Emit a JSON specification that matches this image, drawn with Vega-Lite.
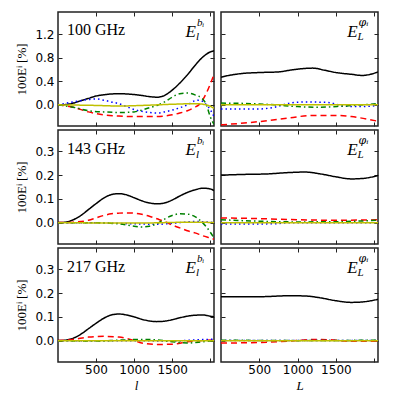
{
"$schema":"https://vega.github.io/schema/vega-lite/v6.json",
"padding":{"left":15,"top":10,"right":5,"bottom":0},
"background":"white",
"config":{
 "view":{"stroke":"#222","strokeWidth":1.5},
 "axis":{"grid":false,"domain":false,"tickSize":-4,"tickColor":"#222","tickWidth":1,"labelPadding":8,"labelFont":"DejaVu Sans","labelFontSize":12,"labelColor":"#000","titleColor":"#000","titleFontWeight":"normal","minExtent":0},
 "axisX":{"titleFont":"Liberation Serif","titleFontStyle":"italic","titleFontSize":13,"titlePadding":4,"labelPadding":6},
 "axisY":{"titleFont":"Liberation Serif","titleFontSize":13,"titlePadding":6},
 "concat":{"spacing":3}
},
"datasets":{"d":[
{"p":1,"s":"k","x":0,"v":0},{"p":1,"s":"k","x":100,"v":0.005},{"p":1,"s":"k","x":200,"v":0.03},{"p":1,"s":"k","x":300,"v":0.07},{"p":1,"s":"k","x":400,"v":0.11},{"p":1,"s":"k","x":500,"v":0.15},{"p":1,"s":"k","x":600,"v":0.17},{"p":1,"s":"k","x":700,"v":0.185},{"p":1,"s":"k","x":800,"v":0.19},{"p":1,"s":"k","x":900,"v":0.185},{"p":1,"s":"k","x":1000,"v":0.175},{"p":1,"s":"k","x":1100,"v":0.16},{"p":1,"s":"k","x":1200,"v":0.14},{"p":1,"s":"k","x":1300,"v":0.13},{"p":1,"s":"k","x":1400,"v":0.16},{"p":1,"s":"k","x":1500,"v":0.25},{"p":1,"s":"k","x":1600,"v":0.37},{"p":1,"s":"k","x":1700,"v":0.51},{"p":1,"s":"k","x":1800,"v":0.67},{"p":1,"s":"k","x":1900,"v":0.81},{"p":1,"s":"k","x":2000,"v":0.9},{"p":1,"s":"k","x":2050,"v":0.92},
{"p":1,"s":"r","x":0,"v":0},{"p":1,"s":"r","x":200,"v":-0.04},{"p":1,"s":"r","x":400,"v":-0.12},{"p":1,"s":"r","x":600,"v":-0.17},{"p":1,"s":"r","x":800,"v":-0.19},{"p":1,"s":"r","x":1000,"v":-0.2},{"p":1,"s":"r","x":1200,"v":-0.2},{"p":1,"s":"r","x":1400,"v":-0.19},{"p":1,"s":"r","x":1500,"v":-0.17},{"p":1,"s":"r","x":1600,"v":-0.14},{"p":1,"s":"r","x":1700,"v":-0.1},{"p":1,"s":"r","x":1800,"v":-0.04},{"p":1,"s":"r","x":1850,"v":0},{"p":1,"s":"r","x":1900,"v":0.08},{"p":1,"s":"r","x":1950,"v":0.2},{"p":1,"s":"r","x":2000,"v":0.35},{"p":1,"s":"r","x":2050,"v":0.52},
{"p":1,"s":"u","x":0,"v":0},{"p":1,"s":"u","x":200,"v":0.05},{"p":1,"s":"u","x":400,"v":0.09},{"p":1,"s":"u","x":500,"v":0.1},{"p":1,"s":"u","x":600,"v":0.08},{"p":1,"s":"u","x":700,"v":0.05},{"p":1,"s":"u","x":800,"v":0.02},{"p":1,"s":"u","x":900,"v":-0.03},{"p":1,"s":"u","x":1000,"v":-0.08},{"p":1,"s":"u","x":1100,"v":-0.11},{"p":1,"s":"u","x":1200,"v":-0.13},{"p":1,"s":"u","x":1300,"v":-0.14},{"p":1,"s":"u","x":1400,"v":-0.12},{"p":1,"s":"u","x":1500,"v":-0.09},{"p":1,"s":"u","x":1600,"v":-0.05},{"p":1,"s":"u","x":1700,"v":0},{"p":1,"s":"u","x":1800,"v":0.07},{"p":1,"s":"u","x":1850,"v":0.08},{"p":1,"s":"u","x":1900,"v":0.06},{"p":1,"s":"u","x":1950,"v":0},{"p":1,"s":"u","x":2000,"v":-0.08},{"p":1,"s":"u","x":2050,"v":-0.2},
{"p":1,"s":"g","x":0,"v":0},{"p":1,"s":"g","x":200,"v":-0.04},{"p":1,"s":"g","x":400,"v":-0.1},{"p":1,"s":"g","x":600,"v":-0.12},{"p":1,"s":"g","x":800,"v":-0.13},{"p":1,"s":"g","x":1000,"v":-0.12},{"p":1,"s":"g","x":1100,"v":-0.09},{"p":1,"s":"g","x":1200,"v":-0.05},{"p":1,"s":"g","x":1300,"v":-0.01},{"p":1,"s":"g","x":1400,"v":0.05},{"p":1,"s":"g","x":1500,"v":0.13},{"p":1,"s":"g","x":1600,"v":0.19},{"p":1,"s":"g","x":1700,"v":0.2},{"p":1,"s":"g","x":1800,"v":0.17},{"p":1,"s":"g","x":1900,"v":0.1},{"p":1,"s":"g","x":1950,"v":0},{"p":1,"s":"g","x":2000,"v":-0.2},{"p":1,"s":"g","x":2050,"v":-0.33},
{"p":1,"s":"y","x":0,"v":0},{"p":1,"s":"y","x":500,"v":-0.01},{"p":1,"s":"y","x":800,"v":-0.02},{"p":1,"s":"y","x":1100,"v":-0.01},{"p":1,"s":"y","x":1500,"v":0.01},{"p":1,"s":"y","x":1800,"v":0.02},{"p":1,"s":"y","x":1950,"v":0},{"p":1,"s":"y","x":2050,"v":-0.06},
{"p":2,"s":"k","x":0,"v":0.47},{"p":2,"s":"k","x":100,"v":0.5},{"p":2,"s":"k","x":250,"v":0.53},{"p":2,"s":"k","x":500,"v":0.55},{"p":2,"s":"k","x":750,"v":0.56},{"p":2,"s":"k","x":900,"v":0.59},{"p":2,"s":"k","x":1100,"v":0.62},{"p":2,"s":"k","x":1200,"v":0.625},{"p":2,"s":"k","x":1350,"v":0.59},{"p":2,"s":"k","x":1500,"v":0.55},{"p":2,"s":"k","x":1700,"v":0.52},{"p":2,"s":"k","x":1850,"v":0.5},{"p":2,"s":"k","x":1950,"v":0.52},{"p":2,"s":"k","x":2050,"v":0.56},
{"p":2,"s":"r","x":0,"v":-0.34},{"p":2,"s":"r","x":300,"v":-0.31},{"p":2,"s":"r","x":600,"v":-0.27},{"p":2,"s":"r","x":900,"v":-0.22},{"p":2,"s":"r","x":1200,"v":-0.18},{"p":2,"s":"r","x":1500,"v":-0.18},{"p":2,"s":"r","x":1700,"v":-0.2},{"p":2,"s":"r","x":1900,"v":-0.24},{"p":2,"s":"r","x":2050,"v":-0.28},
{"p":2,"s":"u","x":0,"v":-0.07},{"p":2,"s":"u","x":500,"v":-0.07},{"p":2,"s":"u","x":700,"v":-0.04},{"p":2,"s":"u","x":900,"v":0.03},{"p":2,"s":"u","x":1100,"v":0.05},{"p":2,"s":"u","x":1400,"v":0.04},{"p":2,"s":"u","x":1600,"v":-0.02},{"p":2,"s":"u","x":1800,"v":-0.03},{"p":2,"s":"u","x":2050,"v":-0.01},
{"p":2,"s":"g","x":0,"v":0.03},{"p":2,"s":"g","x":400,"v":0.02},{"p":2,"s":"g","x":700,"v":0},{"p":2,"s":"g","x":1000,"v":-0.03},{"p":2,"s":"g","x":1300,"v":-0.04},{"p":2,"s":"g","x":1600,"v":-0.02},{"p":2,"s":"g","x":2050,"v":0.02},
{"p":2,"s":"y","x":0,"v":0},{"p":2,"s":"y","x":2050,"v":0},
{"p":3,"s":"k","x":0,"v":0},{"p":3,"s":"k","x":100,"v":0.002},{"p":3,"s":"k","x":200,"v":0.012},{"p":3,"s":"k","x":300,"v":0.03},{"p":3,"s":"k","x":400,"v":0.055},{"p":3,"s":"k","x":500,"v":0.08},{"p":3,"s":"k","x":600,"v":0.103},{"p":3,"s":"k","x":700,"v":0.118},{"p":3,"s":"k","x":800,"v":0.122},{"p":3,"s":"k","x":900,"v":0.117},{"p":3,"s":"k","x":1000,"v":0.105},{"p":3,"s":"k","x":1100,"v":0.092},{"p":3,"s":"k","x":1200,"v":0.083},{"p":3,"s":"k","x":1300,"v":0.079},{"p":3,"s":"k","x":1400,"v":0.083},{"p":3,"s":"k","x":1500,"v":0.095},{"p":3,"s":"k","x":1600,"v":0.112},{"p":3,"s":"k","x":1700,"v":0.127},{"p":3,"s":"k","x":1800,"v":0.138},{"p":3,"s":"k","x":1900,"v":0.145},{"p":3,"s":"k","x":2000,"v":0.142},{"p":3,"s":"k","x":2050,"v":0.135},
{"p":3,"s":"r","x":0,"v":0},{"p":3,"s":"r","x":200,"v":0.002},{"p":3,"s":"r","x":400,"v":0.01},{"p":3,"s":"r","x":500,"v":0.02},{"p":3,"s":"r","x":600,"v":0.03},{"p":3,"s":"r","x":700,"v":0.037},{"p":3,"s":"r","x":800,"v":0.04},{"p":3,"s":"r","x":900,"v":0.041},{"p":3,"s":"r","x":1000,"v":0.04},{"p":3,"s":"r","x":1100,"v":0.035},{"p":3,"s":"r","x":1200,"v":0.027},{"p":3,"s":"r","x":1300,"v":0.016},{"p":3,"s":"r","x":1400,"v":0.005},{"p":3,"s":"r","x":1500,"v":-0.01},{"p":3,"s":"r","x":1600,"v":-0.022},{"p":3,"s":"r","x":1700,"v":-0.034},{"p":3,"s":"r","x":1800,"v":-0.043},{"p":3,"s":"r","x":1900,"v":-0.055},{"p":3,"s":"r","x":2000,"v":-0.065},{"p":3,"s":"r","x":2050,"v":-0.07},
{"p":3,"s":"u","x":0,"v":0},{"p":3,"s":"u","x":500,"v":-0.001},{"p":3,"s":"u","x":1000,"v":-0.005},{"p":3,"s":"u","x":1300,"v":-0.007},{"p":3,"s":"u","x":1600,"v":0},{"p":3,"s":"u","x":1800,"v":0.005},{"p":3,"s":"u","x":2050,"v":0},
{"p":3,"s":"g","x":0,"v":0},{"p":3,"s":"g","x":400,"v":0},{"p":3,"s":"g","x":800,"v":-0.005},{"p":3,"s":"g","x":1000,"v":-0.015},{"p":3,"s":"g","x":1100,"v":-0.018},{"p":3,"s":"g","x":1200,"v":-0.015},{"p":3,"s":"g","x":1300,"v":-0.005},{"p":3,"s":"g","x":1400,"v":0.015},{"p":3,"s":"g","x":1500,"v":0.03},{"p":3,"s":"g","x":1600,"v":0.037},{"p":3,"s":"g","x":1700,"v":0.036},{"p":3,"s":"g","x":1800,"v":0.025},{"p":3,"s":"g","x":1900,"v":0},{"p":3,"s":"g","x":2000,"v":-0.04},{"p":3,"s":"g","x":2050,"v":-0.065},
{"p":3,"s":"y","x":0,"v":0},{"p":3,"s":"y","x":1000,"v":-0.002},{"p":3,"s":"y","x":1800,"v":0.002},{"p":3,"s":"y","x":2050,"v":0},
{"p":4,"s":"k","x":0,"v":0.2},{"p":4,"s":"k","x":300,"v":0.203},{"p":4,"s":"k","x":600,"v":0.205},{"p":4,"s":"k","x":900,"v":0.211},{"p":4,"s":"k","x":1100,"v":0.213},{"p":4,"s":"k","x":1300,"v":0.205},{"p":4,"s":"k","x":1500,"v":0.193},{"p":4,"s":"k","x":1700,"v":0.184},{"p":4,"s":"k","x":1850,"v":0.186},{"p":4,"s":"k","x":2050,"v":0.198},
{"p":4,"s":"r","x":0,"v":0.02},{"p":4,"s":"r","x":500,"v":0.017},{"p":4,"s":"r","x":1000,"v":0.012},{"p":4,"s":"r","x":1500,"v":0.01},{"p":4,"s":"r","x":2050,"v":0.012},
{"p":4,"s":"u","x":0,"v":-0.006},{"p":4,"s":"u","x":700,"v":-0.005},{"p":4,"s":"u","x":900,"v":0},{"p":4,"s":"u","x":2050,"v":0},
{"p":4,"s":"g","x":0,"v":0.012},{"p":4,"s":"g","x":500,"v":0.006},{"p":4,"s":"g","x":1000,"v":0.003},{"p":4,"s":"g","x":1500,"v":0.004},{"p":4,"s":"g","x":2050,"v":0.01},
{"p":4,"s":"y","x":0,"v":0},{"p":4,"s":"y","x":2050,"v":0},
{"p":5,"s":"k","x":0,"v":0},{"p":5,"s":"k","x":100,"v":0.002},{"p":5,"s":"k","x":200,"v":0.01},{"p":5,"s":"k","x":300,"v":0.027},{"p":5,"s":"k","x":400,"v":0.05},{"p":5,"s":"k","x":500,"v":0.073},{"p":5,"s":"k","x":600,"v":0.094},{"p":5,"s":"k","x":700,"v":0.108},{"p":5,"s":"k","x":800,"v":0.112},{"p":5,"s":"k","x":900,"v":0.108},{"p":5,"s":"k","x":1000,"v":0.1},{"p":5,"s":"k","x":1100,"v":0.09},{"p":5,"s":"k","x":1200,"v":0.083},{"p":5,"s":"k","x":1300,"v":0.08},{"p":5,"s":"k","x":1400,"v":0.082},{"p":5,"s":"k","x":1500,"v":0.088},{"p":5,"s":"k","x":1600,"v":0.096},{"p":5,"s":"k","x":1700,"v":0.103},{"p":5,"s":"k","x":1800,"v":0.107},{"p":5,"s":"k","x":1900,"v":0.108},{"p":5,"s":"k","x":2000,"v":0.103},{"p":5,"s":"k","x":2050,"v":0.1},
{"p":5,"s":"r","x":0,"v":0},{"p":5,"s":"r","x":200,"v":0.005},{"p":5,"s":"r","x":400,"v":0.015},{"p":5,"s":"r","x":600,"v":0.018},{"p":5,"s":"r","x":800,"v":0.015},{"p":5,"s":"r","x":1000,"v":0},{"p":5,"s":"r","x":1100,"v":-0.01},{"p":5,"s":"r","x":1300,"v":-0.016},{"p":5,"s":"r","x":1500,"v":-0.015},{"p":5,"s":"r","x":1700,"v":-0.005},{"p":5,"s":"r","x":1900,"v":0},{"p":5,"s":"r","x":2050,"v":0.003},
{"p":5,"s":"u","x":0,"v":0},{"p":5,"s":"u","x":1000,"v":0},{"p":5,"s":"u","x":1500,"v":-0.002},{"p":5,"s":"u","x":1800,"v":0.003},{"p":5,"s":"u","x":2050,"v":0.006},
{"p":5,"s":"g","x":0,"v":0},{"p":5,"s":"g","x":500,"v":-0.002},{"p":5,"s":"g","x":800,"v":0.002},{"p":5,"s":"g","x":1100,"v":0.005},{"p":5,"s":"g","x":1300,"v":0.003},{"p":5,"s":"g","x":1500,"v":-0.005},{"p":5,"s":"g","x":1700,"v":-0.01},{"p":5,"s":"g","x":1900,"v":-0.005},{"p":5,"s":"g","x":2050,"v":0},
{"p":5,"s":"y","x":0,"v":0},{"p":5,"s":"y","x":2050,"v":0},
{"p":6,"s":"k","x":0,"v":0.185},{"p":6,"s":"k","x":500,"v":0.185},{"p":6,"s":"k","x":900,"v":0.189},{"p":6,"s":"k","x":1100,"v":0.188},{"p":6,"s":"k","x":1300,"v":0.18},{"p":6,"s":"k","x":1500,"v":0.168},{"p":6,"s":"k","x":1700,"v":0.161},{"p":6,"s":"k","x":1850,"v":0.163},{"p":6,"s":"k","x":2050,"v":0.174},
{"p":6,"s":"r","x":0,"v":-0.01},{"p":6,"s":"r","x":500,"v":-0.008},{"p":6,"s":"r","x":900,"v":-0.002},{"p":6,"s":"r","x":1200,"v":0.005},{"p":6,"s":"r","x":1400,"v":0.004},{"p":6,"s":"r","x":1700,"v":-0.003},{"p":6,"s":"r","x":2050,"v":-0.003},
{"p":6,"s":"u","x":0,"v":0},{"p":6,"s":"u","x":2050,"v":0.001},
{"p":6,"s":"g","x":0,"v":0.002},{"p":6,"s":"g","x":1000,"v":0},{"p":6,"s":"g","x":2050,"v":0.002},
{"p":6,"s":"y","x":0,"v":0},{"p":6,"s":"y","x":2050,"v":0}
]},
"vconcat":[
 {"hconcat":[
  {"width":156,"height":114,"resolve":{"axis":{"x":"independent","y":"independent"}},"layer":[
   {"data":{"name":"d"},"transform":[{"filter":"datum.p==1"}],"mark":{"type":"line","interpolate":"monotone","clip":true},
    "encoding":{
     "x":{"field":"x","type":"quantitative","scale":{"domain":[0,2050],"nice":false},"axis":{"values":[500,1000,1500,2000],"labels":false,"title":null}},
     "y":{"field":"v","type":"quantitative","scale":{"domain":[-0.36,1.58],"nice":false,"zero":false},"axis":{"values":[0,0.4,0.8,1.2],"format":".1f","title":"100Eⁱ  [%]"}},
     "color":{"field":"s","type":"nominal","scale":{"domain":["k","r","u","g","y"],"range":["#000000","#ff0000","#0000ff","#008000","#bfbf00"]},"legend":null},
     "strokeDash":{"field":"s","type":"nominal","scale":{"domain":["k","r","u","g","y"],"range":[[1,0],[6,4],[1.5,3],[5,3,1.5,3],[1,0]]},"legend":null},
     "strokeWidth":{"field":"s","type":"ordinal","scale":{"domain":["k","r","u","g","y"],"range":[1.5,1.5,1.5,1.5,2]},"legend":null}}},
   {"data":{"values":[{"t":"100 GHz"}]},"mark":{"type":"text","align":"left","baseline":"alphabetic","font":"Liberation Serif","fontSize":16},
    "encoding":{"x":{"datum":118,"type":"quantitative","axis":{"orient":"top","values":[500,1000,1500,2000],"labels":false,"title":null}},
     "y":{"datum":1.19,"type":"quantitative","axis":{"orient":"right","values":[0,0.4,0.8,1.2],"labels":false,"title":null}},"text":{"field":"t"}}},
   {"data":{"values":[{"t":"E"}]},"mark":{"type":"text","align":"right","baseline":"alphabetic","font":"Liberation Serif","fontStyle":"italic","fontSize":17},
    "encoding":{"x":{"datum":1812,"type":"quantitative","axis":null},"y":{"datum":1.158,"type":"quantitative","axis":null},"text":{"field":"t"}}},
   {"data":{"values":[{"t":"l"}]},"mark":{"type":"text","align":"left","baseline":"alphabetic","font":"Liberation Serif","fontStyle":"italic","fontSize":11,"dy":3},
    "encoding":{"x":{"datum":1812,"type":"quantitative","axis":null},"y":{"datum":1.158,"type":"quantitative","axis":null},"text":{"field":"t"}}},
   {"data":{"values":[{"t":"bᵢ"}]},"mark":{"type":"text","align":"left","baseline":"alphabetic","font":"Liberation Serif","fontStyle":"italic","fontSize":11,"dx":1,"dy":-11},
    "encoding":{"x":{"datum":1812,"type":"quantitative","axis":null},"y":{"datum":1.158,"type":"quantitative","axis":null},"text":{"field":"t"}}}
  ]},
  {"width":157,"height":114,"resolve":{"axis":{"x":"independent","y":"independent"}},"layer":[
   {"data":{"name":"d"},"transform":[{"filter":"datum.p==2"}],"mark":{"type":"line","interpolate":"monotone","clip":true},
    "encoding":{
     "x":{"field":"x","type":"quantitative","scale":{"domain":[0,2050],"nice":false},"axis":{"values":[500,1000,1500,2000],"labels":false,"title":null}},
     "y":{"field":"v","type":"quantitative","scale":{"domain":[-0.36,1.58],"nice":false,"zero":false},"axis":{"values":[0,0.4,0.8,1.2],"labels":false,"title":null}},
     "color":{"field":"s","type":"nominal","scale":{"domain":["k","r","u","g","y"],"range":["#000000","#ff0000","#0000ff","#008000","#bfbf00"]},"legend":null},
     "strokeDash":{"field":"s","type":"nominal","scale":{"domain":["k","r","u","g","y"],"range":[[1,0],[6,4],[1.5,3],[5,3,1.5,3],[1,0]]},"legend":null},
     "strokeWidth":{"field":"s","type":"ordinal","scale":{"domain":["k","r","u","g","y"],"range":[1.5,1.5,1.5,1.5,2]},"legend":null}}},
   {"data":{"values":[{"t":"E"}]},"mark":{"type":"text","align":"right","baseline":"alphabetic","font":"Liberation Serif","fontStyle":"italic","fontSize":17},
    "encoding":{"x":{"datum":1783,"type":"quantitative","axis":{"orient":"top","values":[500,1000,1500,2000],"labels":false,"title":null}},"y":{"datum":1.158,"type":"quantitative","axis":{"orient":"right","values":[0,0.4,0.8,1.2],"labels":false,"title":null}},"text":{"field":"t"}}},
   {"data":{"values":[{"t":"L"}]},"mark":{"type":"text","align":"left","baseline":"alphabetic","font":"Liberation Serif","fontStyle":"italic","fontSize":11,"dy":3},
    "encoding":{"x":{"datum":1783,"type":"quantitative","axis":null},"y":{"datum":1.158,"type":"quantitative","axis":null},"text":{"field":"t"}}},
   {"data":{"values":[{"t":"φᵢ"}]},"mark":{"type":"text","align":"left","baseline":"alphabetic","font":"DejaVu Serif","fontStyle":"italic","fontSize":11,"dx":1,"dy":-11},
    "encoding":{"x":{"datum":1783,"type":"quantitative","axis":null},"y":{"datum":1.158,"type":"quantitative","axis":null},"text":{"field":"t"}}}
  ]}
 ]},
 {"hconcat":[
  {"width":156,"height":114,"resolve":{"axis":{"x":"independent","y":"independent"}},"layer":[
   {"data":{"name":"d"},"transform":[{"filter":"datum.p==3"}],"mark":{"type":"line","interpolate":"monotone","clip":true},
    "encoding":{
     "x":{"field":"x","type":"quantitative","scale":{"domain":[0,2050],"nice":false},"axis":{"values":[500,1000,1500,2000],"labels":false,"title":null}},
     "y":{"field":"v","type":"quantitative","scale":{"domain":[-0.09,0.39],"nice":false,"zero":false},"axis":{"values":[0,0.1,0.2,0.3],"format":".1f","title":"100Eⁱ  [%]"}},
     "color":{"field":"s","type":"nominal","scale":{"domain":["k","r","u","g","y"],"range":["#000000","#ff0000","#0000ff","#008000","#bfbf00"]},"legend":null},
     "strokeDash":{"field":"s","type":"nominal","scale":{"domain":["k","r","u","g","y"],"range":[[1,0],[6,4],[1.5,3],[5,3,1.5,3],[1,0]]},"legend":null},
     "strokeWidth":{"field":"s","type":"ordinal","scale":{"domain":["k","r","u","g","y"],"range":[1.5,1.5,1.5,1.5,2]},"legend":null}}},
   {"data":{"values":[{"t":"143 GHz"}]},"mark":{"type":"text","align":"left","baseline":"alphabetic","font":"Liberation Serif","fontSize":16},
    "encoding":{"x":{"datum":118,"type":"quantitative","axis":{"orient":"top","values":[500,1000,1500,2000],"labels":false,"title":null}},
     "y":{"datum":0.29,"type":"quantitative","axis":{"orient":"right","values":[0,0.1,0.2,0.3],"labels":false,"title":null}},"text":{"field":"t"}}},
   {"data":{"values":[{"t":"E"}]},"mark":{"type":"text","align":"right","baseline":"alphabetic","font":"Liberation Serif","fontStyle":"italic","fontSize":17},
    "encoding":{"x":{"datum":1812,"type":"quantitative","axis":null},"y":{"datum":0.286,"type":"quantitative","axis":null},"text":{"field":"t"}}},
   {"data":{"values":[{"t":"l"}]},"mark":{"type":"text","align":"left","baseline":"alphabetic","font":"Liberation Serif","fontStyle":"italic","fontSize":11,"dy":3},
    "encoding":{"x":{"datum":1812,"type":"quantitative","axis":null},"y":{"datum":0.286,"type":"quantitative","axis":null},"text":{"field":"t"}}},
   {"data":{"values":[{"t":"bᵢ"}]},"mark":{"type":"text","align":"left","baseline":"alphabetic","font":"Liberation Serif","fontStyle":"italic","fontSize":11,"dx":1,"dy":-11},
    "encoding":{"x":{"datum":1812,"type":"quantitative","axis":null},"y":{"datum":0.286,"type":"quantitative","axis":null},"text":{"field":"t"}}}
  ]},
  {"width":157,"height":114,"resolve":{"axis":{"x":"independent","y":"independent"}},"layer":[
   {"data":{"name":"d"},"transform":[{"filter":"datum.p==4"}],"mark":{"type":"line","interpolate":"monotone","clip":true},
    "encoding":{
     "x":{"field":"x","type":"quantitative","scale":{"domain":[0,2050],"nice":false},"axis":{"values":[500,1000,1500,2000],"labels":false,"title":null}},
     "y":{"field":"v","type":"quantitative","scale":{"domain":[-0.09,0.39],"nice":false,"zero":false},"axis":{"values":[0,0.1,0.2,0.3],"labels":false,"title":null}},
     "color":{"field":"s","type":"nominal","scale":{"domain":["k","r","u","g","y"],"range":["#000000","#ff0000","#0000ff","#008000","#bfbf00"]},"legend":null},
     "strokeDash":{"field":"s","type":"nominal","scale":{"domain":["k","r","u","g","y"],"range":[[1,0],[6,4],[1.5,3],[5,3,1.5,3],[1,0]]},"legend":null},
     "strokeWidth":{"field":"s","type":"ordinal","scale":{"domain":["k","r","u","g","y"],"range":[1.5,1.5,1.5,1.5,2]},"legend":null}}},
   {"data":{"values":[{"t":"E"}]},"mark":{"type":"text","align":"right","baseline":"alphabetic","font":"Liberation Serif","fontStyle":"italic","fontSize":17},
    "encoding":{"x":{"datum":1783,"type":"quantitative","axis":{"orient":"top","values":[500,1000,1500,2000],"labels":false,"title":null}},"y":{"datum":0.286,"type":"quantitative","axis":{"orient":"right","values":[0,0.1,0.2,0.3],"labels":false,"title":null}},"text":{"field":"t"}}},
   {"data":{"values":[{"t":"L"}]},"mark":{"type":"text","align":"left","baseline":"alphabetic","font":"Liberation Serif","fontStyle":"italic","fontSize":11,"dy":3},
    "encoding":{"x":{"datum":1783,"type":"quantitative","axis":null},"y":{"datum":0.286,"type":"quantitative","axis":null},"text":{"field":"t"}}},
   {"data":{"values":[{"t":"φᵢ"}]},"mark":{"type":"text","align":"left","baseline":"alphabetic","font":"DejaVu Serif","fontStyle":"italic","fontSize":11,"dx":1,"dy":-11},
    "encoding":{"x":{"datum":1783,"type":"quantitative","axis":null},"y":{"datum":0.286,"type":"quantitative","axis":null},"text":{"field":"t"}}}
  ]}
 ]},
 {"hconcat":[
  {"width":156,"height":114,"resolve":{"axis":{"x":"independent","y":"independent"}},"layer":[
   {"data":{"name":"d"},"transform":[{"filter":"datum.p==5"}],"mark":{"type":"line","interpolate":"monotone","clip":true},
    "encoding":{
     "x":{"field":"x","type":"quantitative","scale":{"domain":[0,2050],"nice":false},"axis":{"values":[500,1000,1500,2000],"labelExpr":"datum.value==2000?'':datum.label","format":"d","title":"l"}},
     "y":{"field":"v","type":"quantitative","scale":{"domain":[-0.09,0.39],"nice":false,"zero":false},"axis":{"values":[0,0.1,0.2,0.3],"format":".1f","title":"100Eⁱ  [%]"}},
     "color":{"field":"s","type":"nominal","scale":{"domain":["k","r","u","g","y"],"range":["#000000","#ff0000","#0000ff","#008000","#bfbf00"]},"legend":null},
     "strokeDash":{"field":"s","type":"nominal","scale":{"domain":["k","r","u","g","y"],"range":[[1,0],[6,4],[1.5,3],[5,3,1.5,3],[1,0]]},"legend":null},
     "strokeWidth":{"field":"s","type":"ordinal","scale":{"domain":["k","r","u","g","y"],"range":[1.5,1.5,1.5,1.5,2]},"legend":null}}},
   {"data":{"values":[{"t":"217 GHz"}]},"mark":{"type":"text","align":"left","baseline":"alphabetic","font":"Liberation Serif","fontSize":16},
    "encoding":{"x":{"datum":118,"type":"quantitative","axis":{"orient":"top","values":[500,1000,1500,2000],"labels":false,"title":null}},
     "y":{"datum":0.29,"type":"quantitative","axis":{"orient":"right","values":[0,0.1,0.2,0.3],"labels":false,"title":null}},"text":{"field":"t"}}},
   {"data":{"values":[{"t":"E"}]},"mark":{"type":"text","align":"right","baseline":"alphabetic","font":"Liberation Serif","fontStyle":"italic","fontSize":17},
    "encoding":{"x":{"datum":1812,"type":"quantitative","axis":null},"y":{"datum":0.286,"type":"quantitative","axis":null},"text":{"field":"t"}}},
   {"data":{"values":[{"t":"l"}]},"mark":{"type":"text","align":"left","baseline":"alphabetic","font":"Liberation Serif","fontStyle":"italic","fontSize":11,"dy":3},
    "encoding":{"x":{"datum":1812,"type":"quantitative","axis":null},"y":{"datum":0.286,"type":"quantitative","axis":null},"text":{"field":"t"}}},
   {"data":{"values":[{"t":"bᵢ"}]},"mark":{"type":"text","align":"left","baseline":"alphabetic","font":"Liberation Serif","fontStyle":"italic","fontSize":11,"dx":1,"dy":-11},
    "encoding":{"x":{"datum":1812,"type":"quantitative","axis":null},"y":{"datum":0.286,"type":"quantitative","axis":null},"text":{"field":"t"}}}
  ]},
  {"width":157,"height":114,"resolve":{"axis":{"x":"independent","y":"independent"}},"layer":[
   {"data":{"name":"d"},"transform":[{"filter":"datum.p==6"}],"mark":{"type":"line","interpolate":"monotone","clip":true},
    "encoding":{
     "x":{"field":"x","type":"quantitative","scale":{"domain":[0,2050],"nice":false},"axis":{"values":[500,1000,1500,2000],"labelExpr":"datum.value==2000?'':datum.label","format":"d","title":"L"}},
     "y":{"field":"v","type":"quantitative","scale":{"domain":[-0.09,0.39],"nice":false,"zero":false},"axis":{"values":[0,0.1,0.2,0.3],"labels":false,"title":null}},
     "color":{"field":"s","type":"nominal","scale":{"domain":["k","r","u","g","y"],"range":["#000000","#ff0000","#0000ff","#008000","#bfbf00"]},"legend":null},
     "strokeDash":{"field":"s","type":"nominal","scale":{"domain":["k","r","u","g","y"],"range":[[1,0],[6,4],[1.5,3],[5,3,1.5,3],[1,0]]},"legend":null},
     "strokeWidth":{"field":"s","type":"ordinal","scale":{"domain":["k","r","u","g","y"],"range":[1.5,1.5,1.5,1.5,2]},"legend":null}}},
   {"data":{"values":[{"t":"E"}]},"mark":{"type":"text","align":"right","baseline":"alphabetic","font":"Liberation Serif","fontStyle":"italic","fontSize":17},
    "encoding":{"x":{"datum":1783,"type":"quantitative","axis":{"orient":"top","values":[500,1000,1500,2000],"labels":false,"title":null}},"y":{"datum":0.286,"type":"quantitative","axis":{"orient":"right","values":[0,0.1,0.2,0.3],"labels":false,"title":null}},"text":{"field":"t"}}},
   {"data":{"values":[{"t":"L"}]},"mark":{"type":"text","align":"left","baseline":"alphabetic","font":"Liberation Serif","fontStyle":"italic","fontSize":11,"dy":3},
    "encoding":{"x":{"datum":1783,"type":"quantitative","axis":null},"y":{"datum":0.286,"type":"quantitative","axis":null},"text":{"field":"t"}}},
   {"data":{"values":[{"t":"φᵢ"}]},"mark":{"type":"text","align":"left","baseline":"alphabetic","font":"DejaVu Serif","fontStyle":"italic","fontSize":11,"dx":1,"dy":-11},
    "encoding":{"x":{"datum":1783,"type":"quantitative","axis":null},"y":{"datum":0.286,"type":"quantitative","axis":null},"text":{"field":"t"}}}
  ]}
 ]}
],
"spacing":0
}
